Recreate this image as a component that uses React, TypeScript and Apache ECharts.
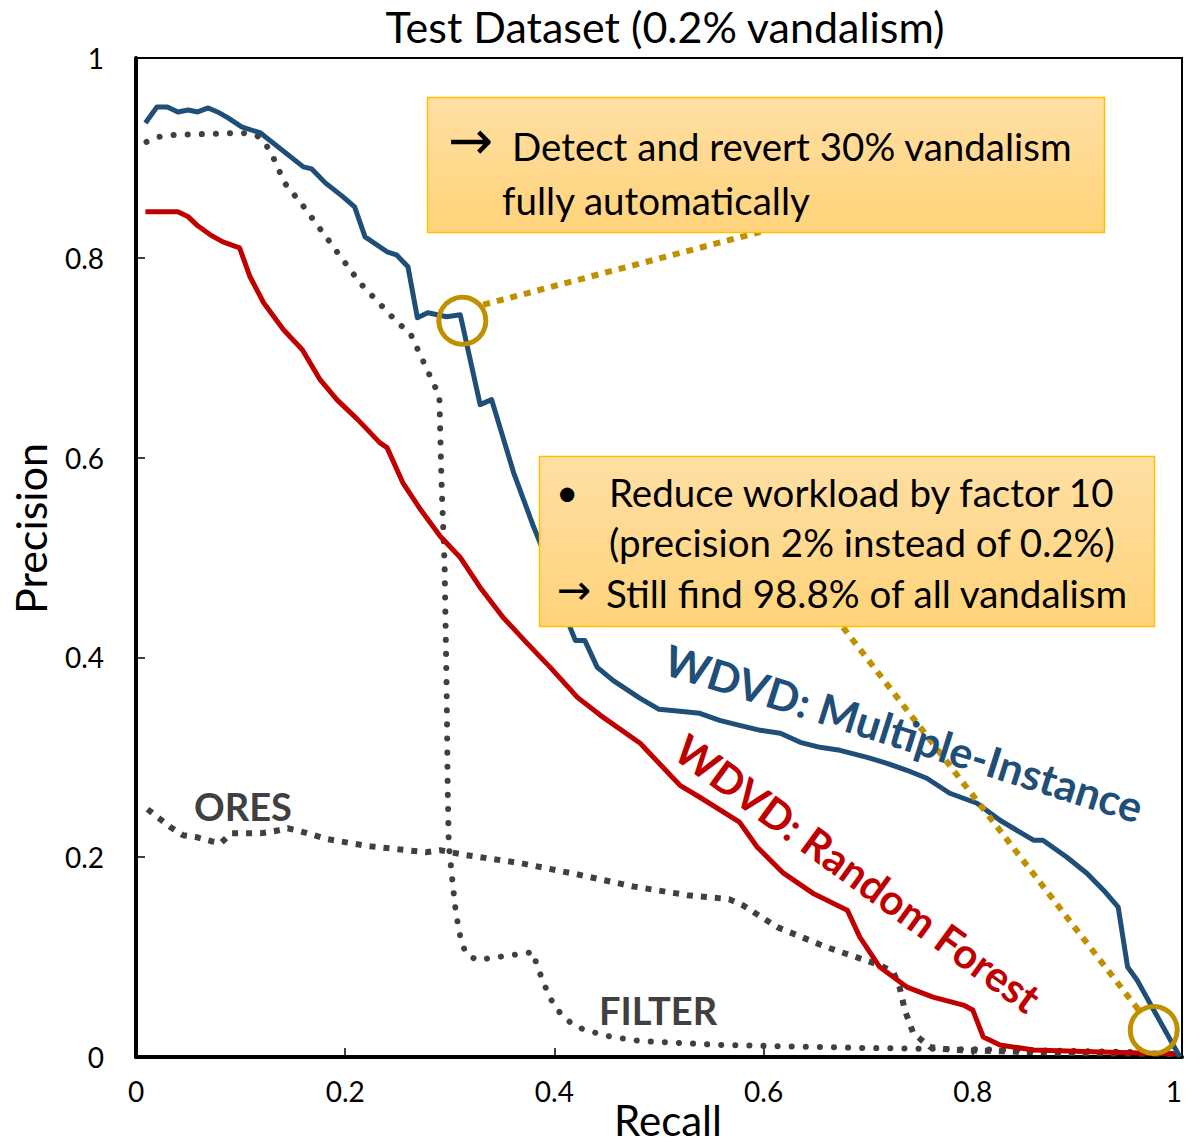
import React, { useEffect, useRef } from "react";
import * as echarts from "echarts";

const TITLE = "Test Dataset (0.2% vandalism)";
const X_NAME = "Recall";
const Y_NAME = "Precision";
const TICK_STEP = 0.2;

// WDVD: Multiple-Instance  [recall, precision]
const miCurve: number[][] = [
  [0.009, 0.935], [0.02, 0.951], [0.03, 0.951], [0.04, 0.946], [0.05, 0.948], [0.059, 0.946],
  [0.069, 0.95], [0.078, 0.946], [0.088, 0.94], [0.101, 0.931], [0.119, 0.925], [0.16, 0.891],
  [0.168, 0.889], [0.181, 0.875], [0.198, 0.861], [0.209, 0.851], [0.219, 0.821], [0.24, 0.806],
  [0.249, 0.803], [0.26, 0.791], [0.269, 0.74], [0.279, 0.745], [0.297, 0.741], [0.31, 0.743],
  [0.329, 0.653], [0.34, 0.658], [0.361, 0.585], [0.38, 0.531], [0.396, 0.49], [0.41, 0.45],
  [0.415, 0.43], [0.42, 0.417], [0.429, 0.417], [0.441, 0.39], [0.456, 0.377], [0.482, 0.359],
  [0.5, 0.348], [0.52, 0.346], [0.539, 0.344], [0.558, 0.337], [0.577, 0.332], [0.597, 0.327],
  [0.616, 0.324], [0.635, 0.315], [0.654, 0.31], [0.673, 0.307], [0.699, 0.3], [0.718, 0.294],
  [0.737, 0.287], [0.756, 0.279], [0.778, 0.264], [0.804, 0.254], [0.826, 0.237], [0.858, 0.217],
  [0.867, 0.217], [0.89, 0.2], [0.909, 0.184], [0.925, 0.167], [0.939, 0.15], [0.948, 0.09],
  [0.957, 0.077], [0.998, 0.0],
];

// WDVD: Random Forest
const rfCurve: number[][] = [
  [0.009, 0.846], [0.04, 0.846], [0.05, 0.841], [0.059, 0.832], [0.071, 0.823], [0.083, 0.816],
  [0.099, 0.81], [0.109, 0.781], [0.122, 0.755], [0.141, 0.728], [0.159, 0.708], [0.176, 0.678],
  [0.192, 0.658], [0.212, 0.638], [0.233, 0.615], [0.24, 0.61], [0.255, 0.575], [0.272, 0.548],
  [0.291, 0.521], [0.31, 0.5], [0.329, 0.47], [0.351, 0.44], [0.374, 0.414], [0.396, 0.39],
  [0.422, 0.36], [0.444, 0.342], [0.482, 0.314], [0.52, 0.272], [0.539, 0.26], [0.577, 0.235],
  [0.594, 0.21], [0.619, 0.184], [0.647, 0.164], [0.68, 0.147], [0.692, 0.12], [0.711, 0.09],
  [0.737, 0.07], [0.762, 0.06], [0.791, 0.052], [0.8, 0.047], [0.81, 0.02], [0.826, 0.012],
  [0.858, 0.007], [0.922, 0.005], [0.998, 0.003],
];

// FILTER
const filterCurve: number[][] = [
  [0.01, 0.916], [0.022, 0.921], [0.035, 0.923], [0.102, 0.925], [0.116, 0.922], [0.125, 0.912],
  [0.131, 0.901], [0.142, 0.875], [0.159, 0.853], [0.183, 0.819], [0.214, 0.775], [0.251, 0.734],
  [0.262, 0.725], [0.273, 0.7], [0.284, 0.675], [0.29, 0.662], [0.292, 0.578], [0.295, 0.494],
  [0.297, 0.367], [0.298, 0.268], [0.299, 0.213], [0.303, 0.171], [0.306, 0.143], [0.311, 0.115],
  [0.316, 0.103], [0.326, 0.097], [0.339, 0.099], [0.366, 0.103], [0.38, 0.105], [0.383, 0.092],
  [0.393, 0.066], [0.399, 0.053], [0.407, 0.042], [0.417, 0.033], [0.429, 0.027], [0.455, 0.02],
  [0.482, 0.016], [0.561, 0.012], [0.7, 0.009], [0.85, 0.007], [0.953, 0.005],
];

// ORES
const oresCurve: number[][] = [
  [0.011, 0.248], [0.022, 0.239], [0.033, 0.23], [0.045, 0.222], [0.058, 0.22], [0.072, 0.216],
  [0.081, 0.214], [0.091, 0.224], [0.119, 0.224], [0.132, 0.226], [0.145, 0.229], [0.157, 0.226],
  [0.183, 0.218], [0.223, 0.211], [0.277, 0.205], [0.291, 0.207], [0.316, 0.202], [0.368, 0.194],
  [0.421, 0.183], [0.474, 0.171], [0.527, 0.162], [0.567, 0.158], [0.58, 0.152], [0.613, 0.13],
  [0.66, 0.11], [0.711, 0.092], [0.724, 0.085], [0.73, 0.07], [0.735, 0.047], [0.743, 0.024],
  [0.759, 0.01], [0.781, 0.007], [0.89, 0.004], [0.998, 0.003],
];

// Highlighted operating points and their callout leader lines
const highlightPoints: number[][] = [[0.312, 0.737], [0.973, 0.027]];
const leader1: number[][] = [[0.332, 0.753], [0.597, 0.826]];
const leader2: number[][] = [[0.676, 0.43], [0.96, 0.045]];

const BLUE = "#1F4E79";
const RED = "#C00000";
const GREY = "#404040";
const GOLD = "#BF9000";
const FONT = "Lato, 'Open Sans', sans-serif";
const BOX_FS = 38.5;

export default function App() {
  const ref = useRef<HTMLDivElement>(null);

  useEffect(() => {
    if (!ref.current) return;
    const chart = echarts.init(ref.current, null, { renderer: "svg" });
    const boxFill = () =>
      new echarts.graphic.LinearGradient(0, 0, 0, 1, [
        { offset: 0, color: "#FFDFA4" },
        { offset: 1, color: "#FFD37A" },
      ]);
    const txt = (x: number, y: number, text: string, extra: any = {}) => ({
      type: "text",
      x,
      y,
      z: 101,
      style: {
        text,
        fontSize: BOX_FS,
        fontFamily: FONT,
        fill: "#000",
        verticalAlign: "middle",
        align: "left",
        ...extra,
      },
    });

    chart.setOption({
      animation: false,
      backgroundColor: "#fff",
      textStyle: { fontFamily: FONT },
      title: {
        text: TITLE,
        left: 660,
        top: 0,
        textAlign: "center",
        textStyle: { fontSize: 43, fontWeight: "normal", color: "#000", fontFamily: FONT },
      },
      grid: {
        left: 136,
        right: 5,
        top: 58,
        bottom: 88,
        containLabel: false,
        outerBoundsMode: "none",
        show: true,
        borderColor: "#000",
        borderWidth: 2,
        backgroundColor: "transparent",
      },
      xAxis: {
        type: "value",
        min: 0,
        max: 1,
        interval: TICK_STEP,
        name: X_NAME,
        nameLocation: "middle",
        nameGap: 42,
        nameMoveOverlap: false,
        nameTextStyle: { fontSize: 42, color: "#000", fontFamily: FONT, padding: [0, 0, 0, 18] },
        axisLine: { show: true, lineStyle: { color: "#000", width: 4 } },
        axisTick: { show: true, inside: true, length: 9, lineStyle: { color: "#000", width: 1.5 } },
        axisLabel: { fontSize: 28, color: "#000", margin: 20, fontFamily: FONT, alignMaxLabel: "right" },
        splitLine: { show: false },
      },
      yAxis: {
        type: "value",
        min: 0,
        max: 1,
        interval: TICK_STEP,
        name: Y_NAME,
        nameLocation: "middle",
        nameGap: 84,
        nameRotate: 90,
        nameMoveOverlap: false,
        nameTextStyle: { fontSize: 43, color: "#000", fontFamily: FONT, padding: [0, 0, 0, 58] },
        axisLine: { show: true, lineStyle: { color: "#000", width: 4 } },
        axisTick: { show: true, inside: true, length: 9, lineStyle: { color: "#000", width: 1.5 } },
        axisLabel: { fontSize: 28, color: "#000", margin: 32, fontFamily: FONT },
        splitLine: { show: false },
      },
      series: [
        {
          name: "FILTER",
          type: "line",
          data: filterCurve,
          symbol: "none",
          z: 2,
          lineStyle: { color: GREY, width: 6, type: [0.1, 14], cap: "round", join: "round" },
        },
        {
          name: "ORES",
          type: "line",
          data: oresCurve,
          symbol: "none",
          z: 2,
          lineStyle: { color: GREY, width: 6, type: [6, 8], cap: "butt" },
        },
        {
          name: "WDVD: Random Forest",
          type: "line",
          data: rfCurve,
          symbol: "none",
          z: 3,
          lineStyle: { color: RED, width: 5, join: "round" },
        },
        {
          name: "WDVD: Multiple-Instance",
          type: "line",
          data: miCurve,
          symbol: "none",
          z: 4,
          lineStyle: { color: BLUE, width: 5, join: "round" },
        },
        {
          name: "leader1",
          type: "line",
          data: leader1,
          symbol: "none",
          z: 5,
          lineStyle: { color: GOLD, width: 6, type: [7, 7] },
        },
        {
          name: "leader2",
          type: "line",
          data: leader2,
          symbol: "none",
          z: 5,
          lineStyle: { color: GOLD, width: 6, type: [7, 7] },
        },
        {
          name: "highlight",
          type: "scatter",
          data: highlightPoints,
          symbol: "circle",
          symbolSize: 47,
          z: 6,
          itemStyle: { color: "rgba(0,0,0,0)", borderColor: GOLD, borderWidth: 5, opacity: 1 },
        },
      ],
      graphic: [
        {
          type: "rect",
          z: 100,
          shape: { x: 427.5, y: 97.5, width: 677, height: 135 },
          style: { fill: boxFill(), stroke: "#FFC000", lineWidth: 1.5 },
        },
        txt(448, 140, "→", { fontFamily: "DejaVu Sans", fontSize: 54 }),
        txt(512, 146, "Detect and revert 30% vandalism"),
        txt(502, 200, "fully automatically"),
        {
          type: "rect",
          z: 100,
          shape: { x: 539.5, y: 456.5, width: 615, height: 170 },
          style: { fill: boxFill(), stroke: "#FFC000", lineWidth: 1.5 },
        },
        txt(556, 491, "•"),
        txt(609, 492, "Reduce workload by factor 10"),
        txt(609, 542, "(precision 2% instead of 0.2%)"),
        txt(557, 590, "→", { fontFamily: "DejaVu Sans", fontSize: 41 }),
        txt(606, 593, "Still find 98.8% of all vandalism"),
        {
          type: "text",
          x: 904,
          y: 733,
          rotation: (-17.5 * Math.PI) / 180,
          z: 50,
          style: {
            text: "WDVD: Multiple-Instance",
            fontSize: 43,
            fontWeight: "bold",
            fontFamily: FONT,
            fill: BLUE,
            align: "center",
            verticalAlign: "middle",
          },
        },
        {
          type: "text",
          x: 858,
          y: 873,
          rotation: (-36 * Math.PI) / 180,
          z: 50,
          style: {
            text: "WDVD: Random Forest",
            fontSize: 42,
            fontWeight: "bold",
            fontFamily: FONT,
            fill: RED,
            align: "center",
            verticalAlign: "middle",
          },
        },
        {
          type: "text",
          x: 243,
          y: 806,
          z: 50,
          style: {
            text: "ORES",
            fontSize: 38,
            fontWeight: "bold",
            fontFamily: FONT,
            fill: GREY,
            align: "center",
            verticalAlign: "middle",
          },
        },
        {
          type: "text",
          x: 658,
          y: 1010,
          z: 50,
          style: {
            text: "FILTER",
            fontSize: 38,
            fontWeight: "bold",
            fontFamily: FONT,
            fill: GREY,
            align: "center",
            verticalAlign: "middle",
          },
        },
      ],
    });
    return () => chart.dispose();
  }, []);

  return (
    <div
      ref={ref}
      style={{ position: "absolute", left: 0, top: 0, width: 1187, height: 1145, background: "#fff" }}
    />
  );
}
